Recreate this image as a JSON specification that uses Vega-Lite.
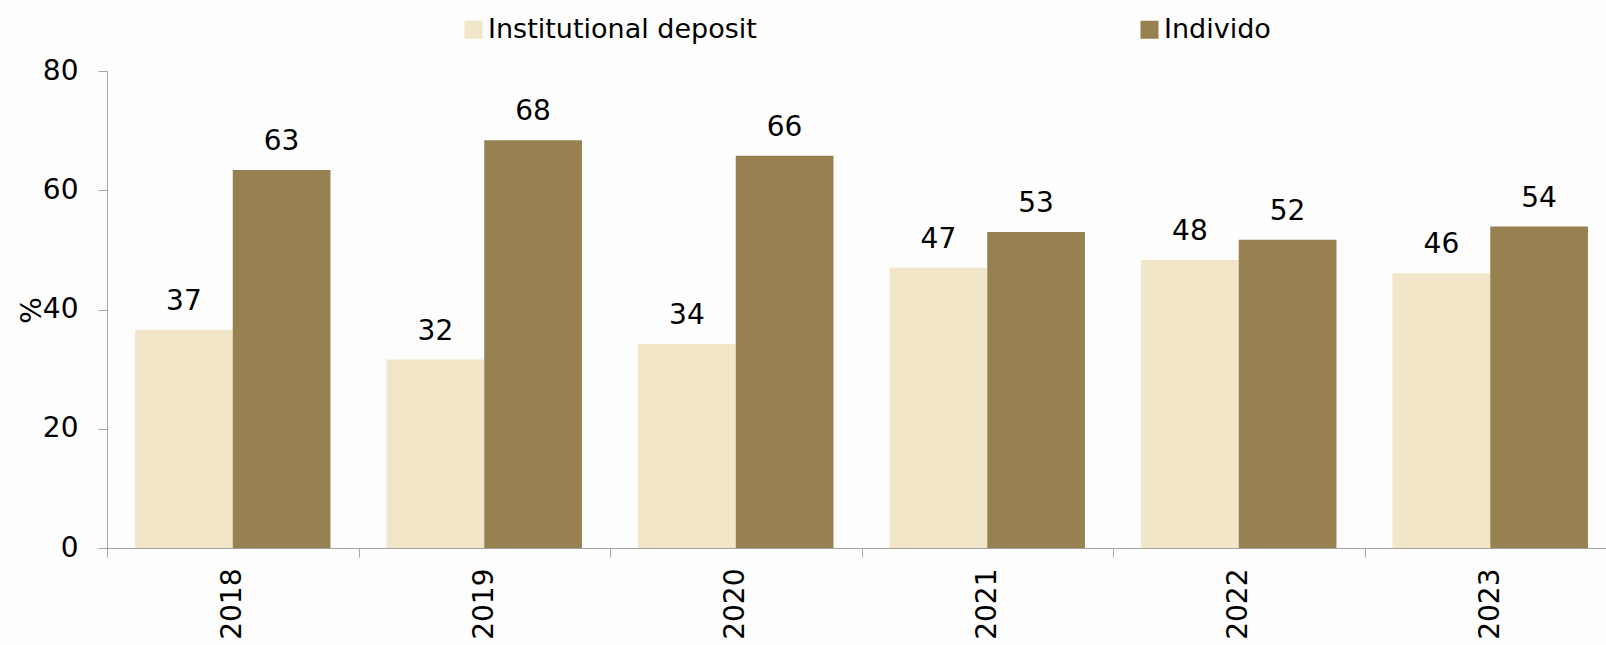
{
  "$schema": "https://vega.github.io/schema/vega-lite/v6.json",
  "autosize": {"type": "none"},
  "width": 1499,
  "height": 477,
  "padding": {"left": 107, "top": 71, "right": 0, "bottom": 97},
  "background": "#FDFDFD",
  "config": {"view": {"stroke": null}, "font": "DejaVu Sans"},
  "data": {
    "values": [
      {"year": "2018", "type": "Institutional deposit", "value": 36.6},
      {"year": "2018", "type": "Individo", "value": 63.4},
      {"year": "2019", "type": "Institutional deposit", "value": 31.6},
      {"year": "2019", "type": "Individo", "value": 68.4},
      {"year": "2020", "type": "Institutional deposit", "value": 34.2},
      {"year": "2020", "type": "Individo", "value": 65.8},
      {"year": "2021", "type": "Institutional deposit", "value": 47.0},
      {"year": "2021", "type": "Individo", "value": 53.0},
      {"year": "2022", "type": "Institutional deposit", "value": 48.3},
      {"year": "2022", "type": "Individo", "value": 51.7},
      {"year": "2023", "type": "Institutional deposit", "value": 46.1},
      {"year": "2023", "type": "Individo", "value": 53.9}
    ]
  },
  "encoding": {
    "x": {
      "field": "year",
      "type": "nominal",
      "scale": {"range": [0, 1509], "paddingInner": 0, "paddingOuter": 0},
      "axis": {
        "title": null,
        "tickBand": "extent",
        "labelAngle": -90,
        "labelAlign": "right",
        "labelBaseline": "middle",
        "tickSize": 9,
        "labelPadding": 11,
        "labelFontSize": 28,
        "labelColor": "#000000",
        "domainColor": "#A6A6A6",
        "tickColor": "#A6A6A6",
        "grid": false
      }
    },
    "xOffset": {
      "field": "type",
      "sort": ["Institutional deposit", "Individo"],
      "scale": {"paddingInner": 0, "paddingOuter": 0.287}
    },
    "y": {
      "field": "value",
      "type": "quantitative",
      "scale": {"domain": [0, 80]},
      "axis": {
        "title": "%",
        "titleX": -75,
        "titleY": 239,
        "titleAngle": -90,
        "titleAlign": "center",
        "titleBaseline": "middle",
        "titleFontSize": 28,
        "titleFontWeight": "normal",
        "titleColor": "#000000",
        "values": [0, 20, 40, 60, 80],
        "grid": false,
        "tickSize": 9,
        "labelPadding": 20,
        "labelFontSize": 28,
        "labelColor": "#000000",
        "domainColor": "#A6A6A6",
        "tickColor": "#A6A6A6"
      }
    }
  },
  "layer": [
    {
      "mark": {"type": "bar"},
      "encoding": {
        "color": {
          "field": "type",
          "type": "nominal",
          "scale": {"domain": ["Institutional deposit", "Individo"], "range": ["#F2E6C8", "#978150"]},
          "legend": {
            "title": null,
            "orient": "none",
            "legendX": 353,
            "legendY": -55,
            "direction": "horizontal",
            "columns": 2,
            "columnPadding": 379,
            "padding": 0,
            "symbolType": "square",
            "symbolSize": 324,
            "symbolStrokeWidth": 0,
            "labelOffset": 1,
            "labelFontSize": 27,
            "labelColor": "#000000",
            "labelLimit": 500
          }
        }
      }
    },
    {
      "mark": {"type": "text", "dy": -20, "fontSize": 28, "baseline": "alphabetic", "color": "#000000"},
      "encoding": {
        "text": {"field": "value", "type": "quantitative", "format": ".0f"}
      }
    }
  ]
}
